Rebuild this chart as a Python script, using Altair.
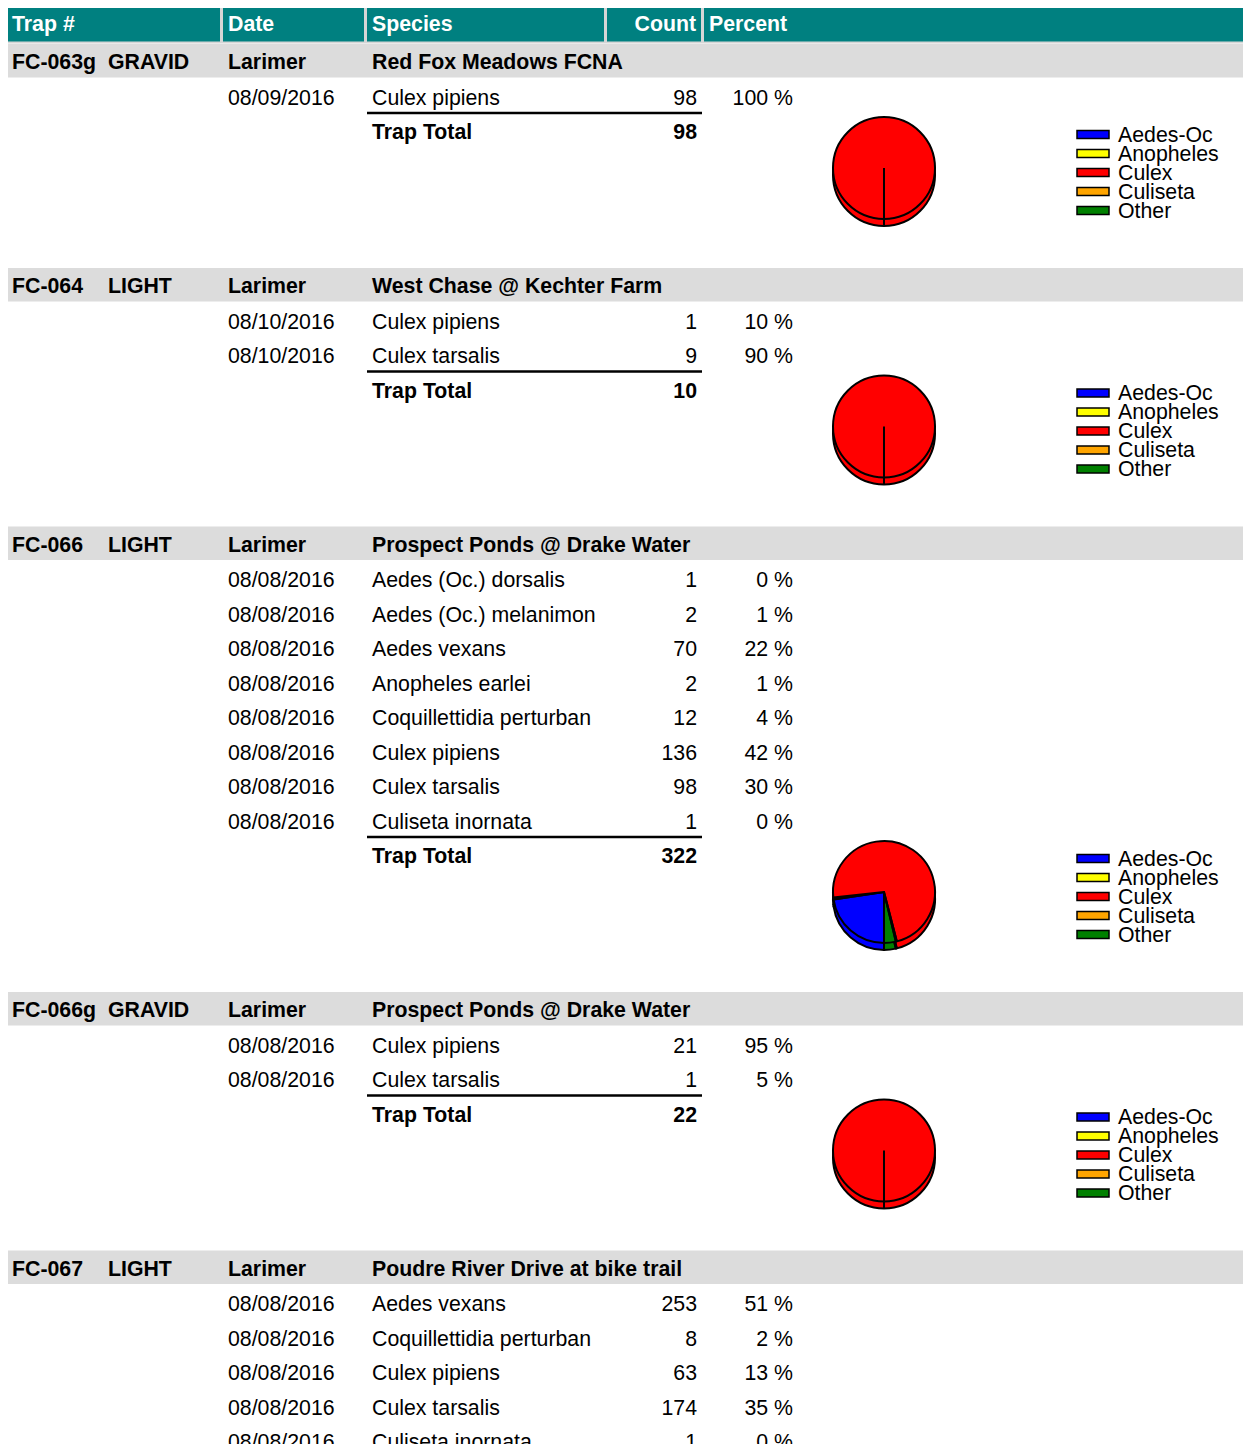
import math
import altair as alt
import pandas as pd

# ---------------- data ----------------
traps = ["FC-063g", "FC-064", "FC-066", "FC-066g", "FC-067"]
trap_types = ["GRAVID", "LIGHT", "LIGHT", "GRAVID", "LIGHT"]
counties = ["Larimer", "Larimer", "Larimer", "Larimer", "Larimer"]
locations = ["Red Fox Meadows FCNA", "West Chase @ Kechter Farm",
             "Prospect Ponds @ Drake Water", "Prospect Ponds @ Drake Water",
             "Poudre River Drive at bike trail"]

dates = [
    ["08/09/2016"],
    ["08/10/2016", "08/10/2016"],
    ["08/08/2016"] * 8,
    ["08/08/2016", "08/08/2016"],
    ["08/08/2016"] * 5,
]
species = [
    ["Culex pipiens"],
    ["Culex pipiens", "Culex tarsalis"],
    ["Aedes (Oc.) dorsalis", "Aedes (Oc.) melanimon", "Aedes vexans", "Anopheles earlei",
     "Coquillettidia perturban", "Culex pipiens", "Culex tarsalis", "Culiseta inornata"],
    ["Culex pipiens", "Culex tarsalis"],
    ["Aedes vexans", "Coquillettidia perturban", "Culex pipiens", "Culex tarsalis", "Culiseta inornata"],
]
counts = [
    [98],
    [1, 9],
    [1, 2, 70, 2, 12, 136, 98, 1],
    [21, 1],
    [253, 8, 63, 174, 1],
]
percents = [
    ["100 %"],
    ["10 %", "90 %"],
    ["0 %", "1 %", "22 %", "1 %", "4 %", "42 %", "30 %", "0 %"],
    ["95 %", "5 %"],
    ["51 %", "2 %", "13 %", "35 %", "0 %"],
]

pie_cats = ["Aedes-Oc", "Anopheles", "Culex", "Culiseta", "Other"]
pie_colors = ["#0000FF", "#FFFF00", "#FF0000", "#FFA500", "#008000"]
genus_to_cat = {"Aedes": "Aedes-Oc", "Anopheles": "Anopheles", "Culex": "Culex",
                "Culiseta": "Culiseta"}

header_labels = ["Trap #", "Date", "Species", "Count", "Percent"]

# ---------------- layout ----------------
X_TRAP, X_TYPE, X_DATE, X_SPEC, X_COUNT, X_PCT = 12, 108, 228, 372, 697, 793
PIE_X, PIE_R, PIE_DEPTH = 884, 51, 7
LEG_SW0, LEG_SW1, LEG_TX = 1077, 1109, 1118
FIRST_HEAD = 62
FIRST_ROW = 35.5
ROW_STEP = 34.5
GROUP_GAP = 154
TXT = 1  # visual centering offset for text

W, H = 1235, 1436
xs = alt.Scale(domain=[8, 8 + W], range=[0, W], nice=False, zero=False)
ys = alt.Scale(domain=[8, 8 + H], range=[0, H], nice=False, zero=False)
FONT = "Liberation Sans"
FS = 21.3

head_cells = pd.DataFrame({
    "x0": [7, 223, 367, 607, 704], "x1": [220, 364, 604, 701, 1251],
    "y0": [6] * 5, "y1": [41.5] * 5,
})
head_text = pd.DataFrame({
    "x": [12, 228, 372, 696, 709], "y": [24 + TXT] * 5, "t": header_labels,
    "al": ["left", "left", "left", "right", "left"],
})

bands, ghead, rows, lines, totals, legend, pies = [], [], [], [], [], [], []
hy = FIRST_HEAD
for g in range(len(traps)):
    bands.append({"x0": 6, "x1": 1251, "y0": hy - 18, "y1": hy + 15.5})
    for xx, tt in [(X_TRAP, traps[g]), (X_TYPE, trap_types[g]), (X_DATE, counties[g]),
                   (X_SPEC, locations[g])]:
        ghead.append({"x": xx, "y": hy + TXT, "t": tt})
    n = len(species[g])
    for i in range(n):
        ry = hy + FIRST_ROW + i * ROW_STEP
        sp = species[g][i]
        cat = genus_to_cat.get(sp.split(" ")[0], "Other")
        rows.append({"trap": traps[g], "date": dates[g][i], "sp": sp, "cnt": counts[g][i],
                     "pct": percents[g][i], "y": ry + TXT,
                     "cat": cat, "cat_order": pie_cats.index(cat),
                     "px": PIE_X, "py": 0})
    ty = hy + FIRST_ROW + n * ROW_STEP
    lines.append({"x0": 367, "x1": 702, "y": ty - ROW_STEP + 15.5})
    totals.append({"y": ty + TXT, "tot": str(sum(counts[g]))})
    pcy = ty + 36
    for r in rows:
        if r["trap"] == traps[g]:
            r["py"] = pcy
    pies.append({"x": PIE_X, "y0": pcy, "y1": pcy + PIE_R + PIE_DEPTH})
    for k, c in enumerate(pie_cats):
        ly = ty + 2.5 + 19 * k
        legend.append({"cat": c, "y": ly + TXT, "y0": ly - 4, "y1": ly + 4})
    hy = ty + GROUP_GAP

bands = pd.DataFrame(bands)
ghead = pd.DataFrame(ghead)
rows = pd.DataFrame(rows)
lines = pd.DataFrame(lines)
totals = pd.DataFrame(totals)
legend = pd.DataFrame(legend)
pies = pd.DataFrame(pies)

cscale = alt.Scale(domain=pie_cats, range=pie_colors)


def X(f):
    return alt.X(f, type="quantitative", scale=xs, axis=None)


def Y(f):
    return alt.Y(f, type="quantitative", scale=ys, axis=None)


def text_layer(df, field, x, align="left", bold=False, color="black", y="y:Q"):
    return alt.Chart(df).mark_text(
        align=align, baseline="middle", font=FONT, fontSize=FS,
        fontWeight="bold" if bold else "normal", color=color,
    ).encode(x=alt.value(x - 8), y=Y(y), text=alt.Text(field, type="nominal"))


layers = []
# header
layers.append(alt.Chart(pd.DataFrame({"x0": [5], "x1": [1251], "y0": [3.5], "y1": [43.5]}))
              .mark_rect(color="#D6D6D6").encode(x=X("x0"), x2="x1", y=Y("y0"), y2="y1"))
layers.append(alt.Chart(head_cells).mark_rect(color="#008080")
              .encode(x=X("x0"), x2="x1", y=Y("y0"), y2="y1"))
for al in ["left", "right"]:
    layers.append(alt.Chart(head_text[head_text.al == al]).mark_text(
        align=al, baseline="middle", font=FONT, fontSize=FS, fontWeight="bold", color="white")
        .encode(x=X("x"), y=Y("y"), text="t:N"))
# group bands
layers.append(alt.Chart(bands).mark_rect(color="#DCDCDC")
              .encode(x=X("x0"), x2="x1", y=Y("y0"), y2="y1"))
layers.append(alt.Chart(ghead).mark_text(
    align="left", baseline="middle", font=FONT, fontSize=FS, fontWeight="bold", color="black")
    .encode(x=X("x"), y=Y("y"), text="t:N"))
# rows
layers.append(text_layer(rows, "date", X_DATE))
layers.append(text_layer(rows, "sp", X_SPEC))
layers.append(text_layer(rows, "cnt", X_COUNT, align="right"))
layers.append(text_layer(rows, "pct", X_PCT, align="right"))
# underline
layers.append(alt.Chart(lines).mark_rule(color="black", strokeWidth=2.5)
              .encode(x=X("x0"), x2="x1", y=Y("y")))
# totals
totals["lab"] = "Trap Total"
layers.append(text_layer(totals, "lab", X_SPEC, bold=True))
layers.append(text_layer(totals, "tot", X_COUNT, align="right", bold=True))

# pies
pie_src = (alt.Chart(rows)
           .transform_aggregate(n="sum(cnt)", groupby=["trap", "cat", "cat_order", "px", "py"])
           .transform_joinaggregate(tot="sum(n)", groupby=["trap"])
           .transform_window(cum="sum(n)", groupby=["trap"], sort=[alt.SortField("cat_order")],
                             frame=[None, 0])
           .transform_calculate(t0="(datum.cum - datum.n) / datum.tot",
                                t1="datum.cum / datum.tot",
                                pys="datum.py + %d" % PIE_DEPTH))
theta = alt.Theta("t0:Q", scale=alt.Scale(domain=[0, 1], range=[math.pi, 3 * math.pi]), stack=None)
for yf in ["pys", "py"]:
    layers.append(pie_src.mark_arc(outerRadius=PIE_R, stroke="black", strokeWidth=2,
                                   strokeJoin="round")
                  .encode(x=X("px"), y=Y(yf), theta=theta, theta2="t1:Q",
                          color=alt.Color("cat:N", scale=cscale, legend=None)))
layers.append(alt.Chart(pies).mark_rule(color="black", strokeWidth=2)
              .encode(x=X("x"), y=Y("y0"), y2="y1"))

# legends
legend["sx0"] = LEG_SW0
legend["sx1"] = LEG_SW1
layers.append(alt.Chart(legend).mark_rect(stroke="black", strokeWidth=1.5)
              .encode(x=X("sx0"), x2="sx1", y=Y("y0"), y2="y1",
                      color=alt.Color("cat:N", scale=cscale, legend=None)))
layers.append(text_layer(legend, "cat", LEG_TX))

chart = alt.layer(*layers).properties(
    width=W, height=H, padding=0,
    autosize=alt.AutoSizeParams(type="none"),
).configure_view(strokeWidth=0)

chart.save("out.html", embed_options={"renderer": "svg", "actions": False})
